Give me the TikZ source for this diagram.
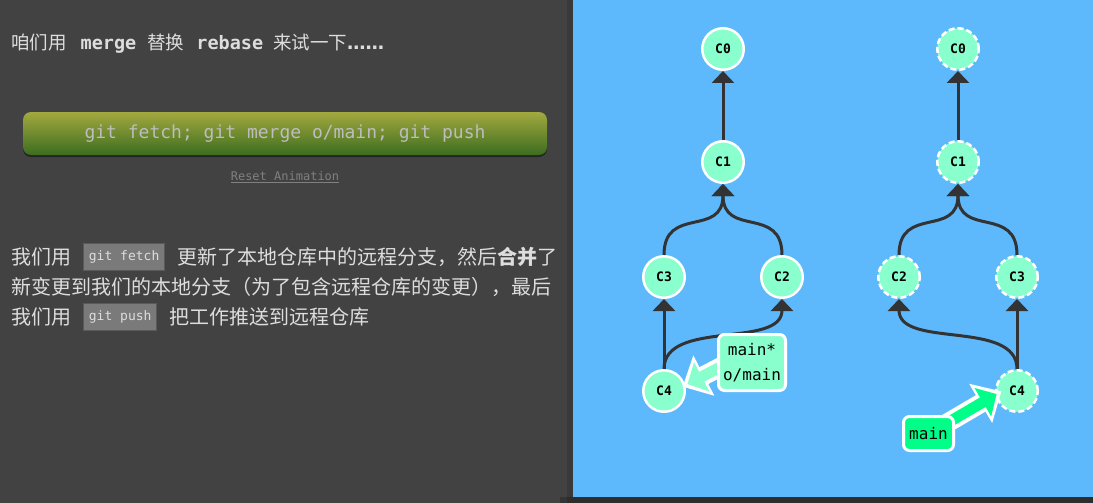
\documentclass[tikz,border=0pt]{standalone}
\usepackage{fontspec}
\setmainfont{Noto Sans CJK SC}
\setmonofont{DejaVu Sans Mono}
\newfontfamily\dotsfont{DejaVu Sans}
\usetikzlibrary{arrows.meta,positioning}
\pgfdeclarelayer{front}
\pgfsetlayers{main,front}
\definecolor{pagebg}{HTML}{424242}
\definecolor{panel}{HTML}{5DB9FC}
\definecolor{commit}{HTML}{88FFCC}
\definecolor{branch}{HTML}{00FF88}
\definecolor{edgegray}{HTML}{333333}
\definecolor{textgray}{HTML}{DDDDDD}
\definecolor{btntext}{HTML}{BDBDBD}
\definecolor{btntop}{HTML}{A3A93F}
\definecolor{btnbot}{HTML}{3C6D1F}
\definecolor{codefill}{HTML}{7A7A7A}
\definecolor{codeline}{HTML}{5A5A5A}
\tikzset{
  commitnode/.style={circle,draw=white,line width=2.5pt,fill=commit,minimum size=41.5pt,inner sep=0pt,
    font=\ttfamily\bfseries\fontsize{13}{13}\selectfont},
  ghostnode/.style={commitnode,dash pattern=on 6pt off 3pt},
  parent/.style={edgegray,line width=3pt,-{Triangle[length=12pt,width=22pt]}},
  branchbox/.style={rounded corners=6pt,draw=white,line width=3pt,align=center,inner sep=4pt,
    font=\ttfamily\fontsize{16}{25}\selectfont},
  fatout/.style={white,line width=19pt,-{Triangle[length=24pt,width=44pt]}},
  fatin/.style={line width=11pt,-{Triangle[length=16pt,width=32pt]},shorten >=5.5pt},
  codebox/.style={fill=codefill,draw=codeline,line width=1pt,text=textgray,minimum height=27pt,inner xsep=5pt,
    font=\ttfamily\fontsize{13}{13}\selectfont},
  cntext/.style={text=textgray,inner sep=0pt,font=\fontsize{20}{20}\selectfont},
}
\begin{document}
\begin{tikzpicture}[x=1pt,y=-1pt]
  \useasboundingbox (0,0) rectangle (1093,503);
  \fill[pagebg] (0,0) rectangle (1093,503);
  % panel with its shadow
  \fill[black,opacity=0.12] (567,0) rectangle (1093,503);
  \fill[black,opacity=0.2] (560,497) rectangle (1093,503);
  \fill[panel] (573,0) rectangle (1093,497);

  % left column
  \node[anchor=west,text=textgray,inner sep=0pt,font=\fontsize{18.5}{18.5}\selectfont] (title) at (11,44)
    {咱们用\hspace{14pt}{\ttfamily\bfseries merge}\hspace{11pt}替换\hspace{12pt}{\ttfamily\bfseries rebase}\hspace{10pt}来试一下{\dotsfont\bfseries ……}};
  \fill[black,opacity=0.45,rounded corners=8pt] (23,115) rectangle (547,157);
  \node[rounded corners=8pt,minimum width=524pt,minimum height=43pt,top color=btntop,bottom color=btnbot,
    text=btntext,font=\ttfamily\fontsize{18}{18}\selectfont] (runbtn) at (285,133.5)
    {git fetch; git merge o/main; git push};
  \node[text=gray,font=\ttfamily\fontsize{12}{12}\selectfont] (reset) at (285,177) {\underline{Reset Animation}};

  \node[cntext,anchor=west] (p1a) at (11,257) {我们用};
  \node[codebox,right=12pt of p1a] (fetch) {git fetch};
  \node[cntext,right=12pt of fetch] (p1b) {更新了本地仓库中的远程分支，然后\textbf{合并}了};
  \node[cntext,anchor=west] (p2) at (11,287) {新变更到我们的本地分支（为了包含远程仓库的变更），最后};
  \node[cntext,anchor=west] (p3a) at (11,317) {我们用};
  \node[codebox,right=12pt of p3a] (push) {git push};
  \node[cntext,right=12pt of push] (p3b) {把工作推送到远程仓库};

  % local tree
  \node[commitnode] (l0) at (723,49) {C0};
  \node[commitnode] (l1) at (723,162) {C1};
  \node[commitnode] (l3) at (664,277) {C3};
  \node[commitnode] (l2) at (782,277) {C2};
  \node[commitnode] (l4) at (664,391) {C4};
  \draw[parent] (l1) -- (l0);
  \draw[parent] (l3.north) .. controls +(0,-50) and +(0,54) .. (l1.south);
  \draw[parent] (l2.north) .. controls +(0,-50) and +(0,54) .. (l1.south);
  \draw[parent] (l4) -- (l3);
  \draw[parent] (l4.north) .. controls +(0,-50) and +(0,50) .. (l2.south);

  % remote tree
  \node[ghostnode] (r0) at (958,49) {C0};
  \node[ghostnode] (r1) at (958,162) {C1};
  \node[ghostnode] (r2) at (899,277) {C2};
  \node[ghostnode] (r3) at (1017,277) {C3};
  \node[ghostnode] (r4) at (1017,391) {C4};
  \draw[parent] (r1) -- (r0);
  \draw[parent] (r2.north) .. controls +(0,-50) and +(0,54) .. (r1.south);
  \draw[parent] (r3.north) .. controls +(0,-50) and +(0,54) .. (r1.south);
  \draw[parent] (r4) -- (r3);
  \draw[parent] (r4.north) .. controls +(0,-50) and +(0,50) .. (r2.south);

  % branch labels, kept on top of their arrows
  \begin{pgfonlayer}{front}
    \node[branchbox,fill=commit,minimum width=67pt,minimum height=56pt] (localmain) at (752,362.5) {main*\\o/main};
    \node[branchbox,fill=branch,minimum width=50pt,minimum height=34pt] (remotemain) at (928.5,433.5) {main};
  \end{pgfonlayer}
  \draw[fatout,shorten >=-3pt] ([xshift=12pt]localmain.west) -- (l4.15);
  \draw[fatin,commit,shorten >=2.5pt] ([xshift=12pt]localmain.west) -- (l4.15);
  \draw[fatout,shorten >=-7pt] ([xshift=-12pt,yshift=8pt]remotemain.east) -- (r4.190);
  \draw[fatin,branch,shorten >=-1.5pt] ([xshift=-12pt,yshift=8pt]remotemain.east) -- (r4.190);
\end{tikzpicture}
\end{document}
